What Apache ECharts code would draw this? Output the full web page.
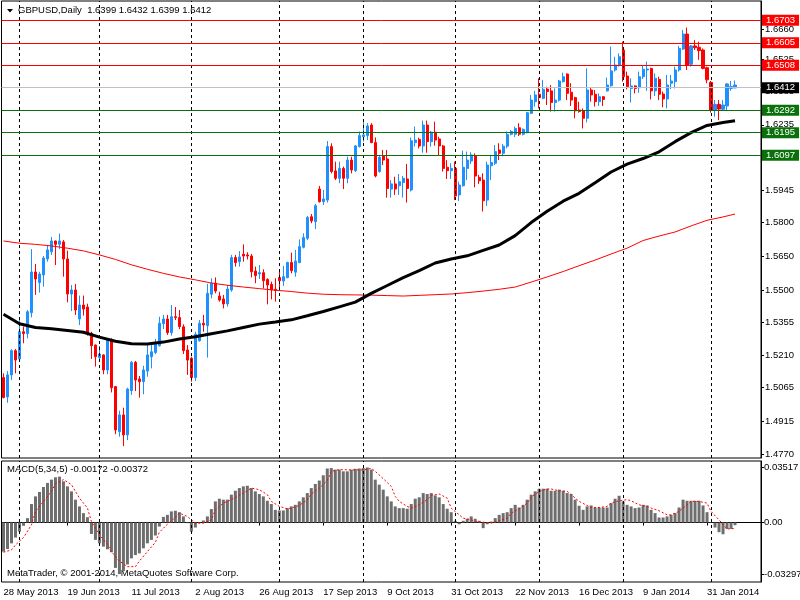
<!DOCTYPE html>
<html>
<head>
<meta charset="utf-8">
<title>GBPUSD, Daily</title>
<script src="https://cdn.jsdelivr.net/npm/echarts@6/dist/echarts.min.js"></script>
<style>
  html, body { margin: 0; padding: 0; background: #fff; }
  #chart { width: 800px; height: 600px; }
</style>
</head>
<body>
<div id="chart"></div>
<script>
// ---- data ----
const symbolName = 'GBPUSD,Daily';
const firstDay = '2013-05-28';
const holidays = ['2013-12-25', '2014-01-01'];

const opens = [
  1.5110,1.5024,1.5122,1.5230,1.5193,1.5314,1.5306,1.5399,1.5580,1.5533,
  1.5567,1.5638,1.5670,1.5718,1.5703,1.5714,1.5638,1.5482,1.5500,1.5371,
  1.5433,1.5424,1.5307,1.5255,1.5199,1.5211,1.5144,1.5277,1.5070,1.4869,
  1.4944,1.4855,1.5052,1.5178,1.5104,1.5092,1.5139,1.5203,1.5222,1.5252,
  1.5350,1.5371,1.5310,1.5381,1.5377,1.5336,1.5233,1.5196,1.5110,1.5274,
  1.5352,1.5341,1.5481,1.5530,1.5473,1.5460,1.5438,1.5500,1.5644,1.5626,
  1.5659,1.5656,1.5651,1.5584,1.5571,1.5577,1.5547,1.5525,1.5503,1.5555,
  1.5540,1.5555,1.5622,1.5579,1.5622,1.5690,1.5730,1.5826,1.5804,1.5949,
  1.5893,1.5900,1.6138,1.6030,1.5997,1.6041,1.5997,1.6078,1.6031,1.6138,
  1.6182,1.6187,1.6234,1.6156,1.6027,1.6096,1.6083,1.5949,1.5972,1.5964,
  1.5978,1.5994,1.5945,1.6156,1.6170,1.6141,1.6234,1.6160,1.6202,1.6172,
  1.6141,1.6046,1.6031,1.6041,1.5923,1.5964,1.6041,1.6074,1.6096,1.6001,
  1.5989,1.5900,1.6053,1.6064,1.6123,1.6108,1.6140,1.6193,1.6193,1.6222,
  1.6193,1.6200,1.6286,1.6338,1.6371,1.6353,1.6394,1.6386,1.6334,1.6345,
  1.6427,1.6461,1.6380,1.6356,1.6301,1.6298,1.6264,1.6390,1.6371,1.6338,
  1.6360,1.6386,1.6409,1.6479,1.6501,1.6568,1.6452,1.6397,1.6408,1.6400,
  1.6449,1.6479,1.6486,1.6386,1.6437,1.6372,1.6350,1.6420,1.6427,1.6479,
  1.6572,1.6639,1.6504,1.6586,1.6580,1.6568,1.6489,1.6424,1.6301,1.6326,
  1.6304,1.6319,1.6397,1.6399
];
const highs = [
  1.5129,1.5139,1.5236,1.5237,1.5366,1.5337,1.5411,1.5682,1.5616,1.5581,
  1.5651,1.5700,1.5736,1.5720,1.5751,1.5722,1.5675,1.5522,1.5527,1.5475,
  1.5475,1.5439,1.5314,1.5257,1.5251,1.5213,1.5285,1.5285,1.5073,1.4963,
  1.4976,1.5065,1.5184,1.5184,1.5117,1.5163,1.5255,1.5263,1.5282,1.5381,
  1.5389,1.5389,1.5433,1.5424,1.5411,1.5347,1.5255,1.5203,1.5314,1.5366,
  1.5389,1.5527,1.5552,1.5556,1.5492,1.5478,1.5522,1.5656,1.5656,1.5673,
  1.5703,1.5668,1.5660,1.5604,1.5611,1.5592,1.5552,1.5537,1.5552,1.5592,
  1.5607,1.5626,1.5666,1.5678,1.5725,1.5752,1.5829,1.5838,1.5883,1.5963,
  1.5945,1.6163,1.6153,1.6071,1.6071,1.6049,1.6093,1.6093,1.6145,1.6205,
  1.6259,1.6242,1.6242,1.6179,1.6101,1.6123,1.6123,1.5989,1.6004,1.6016,
  1.6007,1.6061,1.6178,1.6227,1.6178,1.6254,1.6254,1.6208,1.6249,1.6182,
  1.6145,1.6078,1.6064,1.6071,1.5982,1.6120,1.6116,1.6113,1.6108,1.6012,
  1.6019,1.6071,1.6101,1.6145,1.6153,1.6150,1.6205,1.6212,1.6227,1.6242,
  1.6219,1.6293,1.6368,1.6386,1.6442,1.6435,1.6405,1.6412,1.6397,1.6435,
  1.6467,1.6464,1.6420,1.6360,1.6338,1.6308,1.6486,1.6400,1.6390,1.6375,
  1.6363,1.6445,1.6583,1.6538,1.6553,1.6605,1.6472,1.6442,1.6411,1.6472,
  1.6501,1.6516,1.6489,1.6464,1.6449,1.6383,1.6457,1.6457,1.6494,1.6586,
  1.6657,1.6668,1.6590,1.6612,1.6605,1.6575,1.6494,1.6430,1.6345,1.6345,
  1.6345,1.6420,1.6430,1.6432
];
const lows = [
  1.5018,1.4998,1.5099,1.5129,1.5184,1.5263,1.5285,1.5378,1.5478,1.5488,
  1.5515,1.5626,1.5656,1.5611,1.5682,1.5559,1.5445,1.5406,1.5389,1.5344,
  1.5386,1.5297,1.5193,1.5159,1.5188,1.5125,1.5125,1.5044,1.4858,1.4847,
  1.4805,1.4832,1.5033,1.5050,1.5021,1.5036,1.5114,1.5151,1.5214,1.5248,
  1.5326,1.5300,1.5297,1.5366,1.5326,1.5215,1.5122,1.5092,1.5095,1.5270,
  1.5314,1.5199,1.5463,1.5485,1.5448,1.5418,1.5426,1.5492,1.5604,1.5604,
  1.5626,1.5636,1.5556,1.5530,1.5549,1.5507,1.5436,1.5458,1.5448,1.5500,
  1.5518,1.5552,1.5574,1.5559,1.5619,1.5685,1.5722,1.5797,1.5771,1.5889,
  1.5878,1.5889,1.6019,1.5989,1.5975,1.5949,1.5975,1.6019,1.6025,1.6134,
  1.6160,1.6167,1.6153,1.6001,1.6022,1.6056,1.5911,1.5911,1.5923,1.5923,
  1.5911,1.5889,1.5938,1.6138,1.6130,1.6111,1.6111,1.6138,1.6142,1.6096,
  1.6027,1.5994,1.5994,1.5900,1.5896,1.5960,1.5989,1.6061,1.5957,1.5972,
  1.5849,1.5874,1.5989,1.6056,1.6078,1.6095,1.6130,1.6188,1.6180,1.6185,
  1.6188,1.6197,1.6283,1.6316,1.6308,1.6349,1.6323,1.6294,1.6294,1.6338,
  1.6423,1.6345,1.6319,1.6264,1.6289,1.6219,1.6246,1.6338,1.6316,1.6319,
  1.6319,1.6383,1.6405,1.6472,1.6494,1.6427,1.6393,1.6334,1.6375,1.6378,
  1.6439,1.6386,1.6348,1.6363,1.6345,1.6313,1.6308,1.6394,1.6397,1.6472,
  1.6568,1.6479,1.6494,1.6568,1.6524,1.6482,1.6420,1.6289,1.6271,1.6256,
  1.6298,1.6298,1.6386,1.6399
];
const closes = [
  1.5021,1.5122,1.5230,1.5188,1.5314,1.5306,1.5403,1.5580,1.5549,1.5571,
  1.5642,1.5678,1.5718,1.5703,1.5718,1.5638,1.5482,1.5500,1.5411,1.5433,
  1.5415,1.5307,1.5252,1.5203,1.5215,1.5144,1.5277,1.5065,1.4877,1.4944,
  1.4855,1.5059,1.5178,1.5099,1.5092,1.5144,1.5211,1.5225,1.5258,1.5352,
  1.5371,1.5310,1.5381,1.5377,1.5337,1.5230,1.5188,1.5110,1.5303,1.5352,
  1.5344,1.5485,1.5530,1.5495,1.5455,1.5438,1.5504,1.5644,1.5622,1.5647,
  1.5651,1.5651,1.5581,1.5564,1.5577,1.5541,1.5522,1.5500,1.5498,1.5541,
  1.5559,1.5622,1.5586,1.5629,1.5693,1.5733,1.5823,1.5807,1.5875,1.5893,
  1.5905,1.6138,1.6027,1.5997,1.6041,1.5997,1.6078,1.6034,1.6141,1.6187,
  1.6190,1.6230,1.6156,1.6007,1.6090,1.6078,1.5952,1.5972,1.5949,1.5982,
  1.5997,1.5952,1.6164,1.6167,1.6141,1.6234,1.6160,1.6202,1.6167,1.6141,
  1.6041,1.6031,1.6041,1.5918,1.5967,1.6046,1.6078,1.6101,1.6007,1.5986,
  1.5897,1.6056,1.6067,1.6116,1.6108,1.6140,1.6192,1.6205,1.6219,1.6193,
  1.6215,1.6289,1.6345,1.6368,1.6356,1.6393,1.6383,1.6334,1.6345,1.6430,
  1.6449,1.6375,1.6345,1.6297,1.6294,1.6264,1.6390,1.6368,1.6338,1.6360,
  1.6348,1.6412,1.6475,1.6501,1.6538,1.6449,1.6405,1.6408,1.6397,1.6449,
  1.6482,1.6483,1.6386,1.6442,1.6371,1.6350,1.6412,1.6430,1.6479,1.6575,
  1.6639,1.6501,1.6586,1.6578,1.6565,1.6486,1.6435,1.6301,1.6326,1.6305,
  1.6323,1.6417,1.6405,1.6412
];

// moving averages: [bar index, value]
const maBlack = [
  [0,1.5392],[4,1.5350],[8,1.5333],[12,1.5327],[16,1.5320],[20,1.5312],[24,1.5290],
  [28,1.5272],[32,1.5261],[36,1.5260],[40,1.5268],[44,1.5282],[48,1.5292],[52,1.5305],
  [56,1.5318],[60,1.5333],[64,1.5348],[68,1.5357],[72,1.5367],[76,1.5385],[80,1.5404],
  [84,1.5425],[88,1.5446],[92,1.5485],[96,1.5520],[100,1.5555],[104,1.5586],[108,1.5620],
  [112,1.5638],[116,1.5652],[120,1.5676],[124,1.5700],[128,1.5742],[132,1.5800],
  [136,1.5850],[140,1.5895],[144,1.5930],[148,1.5977],[152,1.6025],[156,1.6060],
  [160,1.6085],[164,1.6115],[168,1.6160],[172,1.6200],[176,1.6232],[180,1.6245],[183,1.6253]
];
const maRed = [
  [0,1.5718],[4,1.5708],[8,1.5703],[12,1.5696],[16,1.5686],[20,1.5674],[24,1.5656],
  [28,1.5636],[32,1.5612],[36,1.5592],[40,1.5574],[44,1.5558],[48,1.5545],[52,1.5531],
  [56,1.5521],[60,1.5513],[64,1.5506],[68,1.5499],[72,1.5493],[76,1.5486],[80,1.5481],
  [84,1.5479],[88,1.5478],[92,1.5477],[96,1.5475],[100,1.5473],[104,1.5476],[108,1.5479],
  [112,1.5482],[116,1.5488],[120,1.5495],[124,1.5503],[128,1.5513],[132,1.5535],
  [136,1.5558],[140,1.5582],[144,1.5608],[148,1.5633],[152,1.5660],[156,1.5686],
  [160,1.5720],[164,1.5740],[168,1.5758],[172,1.5785],[176,1.5810],[180,1.5825],[183,1.5838]
];

const macdHist = [
  -0.0186,-0.0169,-0.0133,-0.0096,-0.0058,-0.0021,0.0028,0.0118,0.0167,0.0195,
  0.0227,0.0253,0.0274,0.0289,0.0293,0.0263,0.0231,0.0199,0.0146,0.0103,
  0.0060,0.0034,-0.0073,-0.0111,-0.0133,-0.0154,-0.0171,-0.0190,-0.0290,-0.03297,
  -0.0310,-0.0268,-0.0229,-0.0208,-0.0197,-0.0165,-0.0133,-0.0111,-0.0083,-0.0026,
  0.0036,0.0049,0.0071,0.0075,0.0066,0.0039,-0.0004,-0.0058,-0.0032,-0.0004,
  0.0013,0.0039,0.0086,0.0135,0.0152,0.0146,0.0146,0.0178,0.0203,0.0220,
  0.0231,0.0235,0.0220,0.0199,0.0182,0.0167,0.0139,0.0118,0.0081,0.0077,
  0.0077,0.0092,0.0103,0.0113,0.0135,0.0161,0.0188,0.0220,0.0246,0.0268,
  0.0302,0.0345,0.0348,0.0338,0.0338,0.0327,0.0327,0.0338,0.0343,0.0345,
  0.0348,0.03517,0.0338,0.0274,0.0242,0.0210,0.0167,0.0135,0.0103,0.0092,
  0.0092,0.0088,0.0118,0.0152,0.0161,0.0188,0.0182,0.0188,0.0173,0.0161,
  0.0118,0.0088,0.0066,0.0011,-0.0011,0.0011,0.0024,0.0039,0.0024,0.0011,
  -0.0036,-0.0011,0.0006,0.0028,0.0049,0.0060,0.0066,0.0092,0.0113,0.0096,
  0.0113,0.0146,0.0178,0.0199,0.0216,0.0216,0.0216,0.0203,0.0203,0.0210,
  0.0203,0.0188,0.0182,0.0146,0.0107,0.0081,0.0103,0.0109,0.0096,0.0096,
  0.0096,0.0096,0.0124,0.0152,0.0171,0.0135,0.0113,0.0103,0.0092,0.0096,
  0.0113,0.0109,0.0081,0.0060,0.0032,0.0032,0.0039,0.0049,0.0060,0.0096,
  0.0146,0.0139,0.0139,0.0139,0.0139,0.0109,0.0066,0.0003,-0.0032,-0.0062,
  -0.0075,-0.0041,-0.0041,-0.00172
];
// signal line: [bar index, value]
const macdSignal = [
  [0,-0.0190],[2,-0.0175],[3,-0.0143],[5,-0.0096],[7,-0.0015],[8,0.0071],[10,0.0135],
  [12,0.0199],[13,0.0246],[15,0.0274],[17,0.0242],[19,0.0156],[21,0.0092],[22,0.0006],
  [24,-0.0079],[26,-0.0139],[27,-0.0186],[29,-0.0246],[31,-0.0282],[33,-0.0282],
  [34,-0.0246],[36,-0.0186],[38,-0.0126],[39,-0.0062],[41,-0.0011],[43,0.0032],
  [44,0.0060],[46,0.0039],[47,0.0017],[48,-0.0004],[50,-0.0004],[52,0.0017],[53,0.0081],
  [55,0.0124],[57,0.0146],[59,0.0173],[61,0.0203],[62,0.0220],[64,0.0210],[66,0.0178],
  [67,0.0135],[69,0.0103],[71,0.0088],[72,0.0092],[74,0.0109],[76,0.0146],[77,0.0182],
  [79,0.0220],[81,0.0268],[82,0.0327],[84,0.0338],[87,0.0336],[90,0.0336],[92,0.0345],
  [93,0.0327],[95,0.0280],[97,0.0231],[98,0.0167],[99,0.0135],[101,0.0103],[102,0.0092],
  [104,0.0113],[106,0.0146],[107,0.0173],[109,0.0182],[111,0.0156],[112,0.0092],
  [114,0.0049],[115,0.0028],[117,0.0017],[118,0.0006],[121,0.0000],[122,-0.0004],
  [124,0.0011],[126,0.0028],[127,0.0060],[129,0.0088],[131,0.0124],[132,0.0161],
  [134,0.0199],[136,0.0214],[137,0.0214],[139,0.0203],[141,0.0199],[142,0.0178],
  [144,0.0135],[146,0.0109],[147,0.0096],[149,0.0096],[151,0.0103],[152,0.0124],
  [154,0.0139],[156,0.0146],[157,0.0139],[159,0.0113],[161,0.0103],[162,0.0092],
  [164,0.0075],[166,0.0049],[167,0.0049],[169,0.0071],[171,0.0113],[172,0.0135],
  [174,0.0135],[176,0.0124],[177,0.0071],[179,0.0017],[181,-0.0041],[182,-0.0040],
  [183,-0.00372]
];

const resistance = [1.6703, 1.6605, 1.6508];
const support = [1.6292, 1.6195, 1.6097];
const priceTicks = [1.6660, 1.6525, 1.6383, 1.6235, 1.6090, 1.5945, 1.5800, 1.5650,
                    1.5500, 1.5355, 1.5210, 1.5065, 1.4915, 1.4770];
const macdTicks = [0.03517, 0, -0.03297];

// ---- build ----
const MONTHS = ['Jan','Feb','Mar','Apr','May','Jun','Jul','Aug','Sep','Oct','Nov','Dec'];
const barCount = opens.length;
const dates = [];
let cur = new Date(firstDay + 'T00:00:00Z');
while (dates.length < barCount) {
    const iso = cur.toISOString().slice(0, 10);
    const wd = cur.getUTCDay();
    if (wd !== 0 && wd !== 6 && holidays.indexOf(iso) < 0) dates.push(new Date(cur));
    cur.setUTCDate(cur.getUTCDate() + 1);
}
const fmtDate = d => d.getUTCDate() + ' ' + MONTHS[d.getUTCMonth()] + ' ' + d.getUTCFullYear();
const categories = dates.map(fmtDate);
// empty room on the right, like the terminal's chart shift
for (let k = 0; k < 6; k++) categories.push('pad' + k);

// first bar of every month gets a dashed separator
const monthStarts = [];
for (let i = 1; i < dates.length; i++) {
    if (dates[i].getUTCMonth() !== dates[i - 1].getUTCMonth()) monthStarts.push(categories[i]);
}

const candles = opens.map((o, i) => [o, closes[i], lows[i], highs[i]]);
const last = barCount - 1;
const lastBar = [opens[last], highs[last], lows[last], closes[last]];

const FONT = 'Liberation Sans';
const FS = 9.5;
const RED = '#ff0000';
const GREEN = '#0a700a';
const BLUE = '#1e90ff';

const vLines = monthStarts.map(c => ({ xAxis: c }));
const levelLine = (v, color, bg) => ({
    yAxis: v,
    lineStyle: { color: color, type: 'solid', width: 1 },
    label: {
        show: true, position: 'end', distance: 1,
        formatter: v.toFixed(4), color: '#fff', backgroundColor: bg,
        padding: [1, 4, 0, 4], lineHeight: 10, fontSize: FS, fontFamily: FONT
    }
});

const chart = echarts.init(document.getElementById('chart'));
chart.setOption({
    animation: false,
    backgroundColor: '#fff',
    textStyle: { fontFamily: FONT },
    graphic: [
        { type: 'polygon', shape: { points: [[7, 9], [13, 9], [10, 12.5]] }, style: { fill: '#000' } },
        { type: 'text', left: 18, top: 5,
          style: { text: symbolName + '  ' + lastBar.map(v => v.toFixed(4)).join(' '),
                   fill: '#000', font: FS + 'px "' + FONT + '"' } },
        { type: 'text', left: 7, top: 464,
          style: { text: 'MACD(5,34,5) ' + macdHist[last].toFixed(5) + ' ' +
                         macdSignal[macdSignal.length - 1][1].toFixed(5),
                   fill: '#000', font: FS + 'px "' + FONT + '"' } },
        { type: 'text', left: 7, top: 568,
          style: { text: 'MetaTrader, \u00a9 2001-2014, MetaQuotes Software Corp.',
                   fill: '#000', font: FS + 'px "' + FONT + '"' } }
    ],
    grid: [
        { left: 1.5, right: 39, top: 1, bottom: 142, show: true, borderColor: '#000', borderWidth: 1,
          outerBoundsMode: 'none', containLabel: false },
        { left: 1.5, right: 39, top: 461, bottom: 18, show: true, borderColor: '#000', borderWidth: 1,
          outerBoundsMode: 'none', containLabel: false }
    ],
    xAxis: [
        { type: 'category', gridIndex: 0, data: categories, boundaryGap: true,
          axisLine: { show: false }, axisTick: { show: false }, axisLabel: { show: false },
          splitLine: { show: false } },
        { type: 'category', gridIndex: 1, data: categories, boundaryGap: true,
          axisLine: { show: true, lineStyle: { color: '#000' } },
          axisTick: { show: true, interval: 15, alignWithLabel: true, length: 3, lineStyle: { color: '#000' } },
          axisLabel: { interval: 15, align: 'left', margin: 5, fontSize: FS, color: '#000', fontFamily: FONT },
          splitLine: { show: false } }
    ],
    yAxis: [
        { type: 'value', gridIndex: 0, position: 'right', min: 1.47522, max: 1.67860,
          splitLine: { show: false },
          axisLine: { show: true, lineStyle: { color: '#000' } },
          axisTick: { show: true, length: 3, customValues: priceTicks, lineStyle: { color: '#000' } },
          axisLabel: { customValues: priceTicks, formatter: v => v.toFixed(4),
                       fontSize: FS, color: '#000', margin: 4, fontFamily: FONT } },
        { type: 'value', gridIndex: 1, position: 'right', min: -0.0380, max: 0.0393,
          splitLine: { show: false },
          axisLine: { show: true, lineStyle: { color: '#000' } },
          axisTick: { show: true, length: 3, customValues: macdTicks, lineStyle: { color: '#000' } },
          axisLabel: { customValues: macdTicks, formatter: v => (v === 0 ? '0.00' : v.toFixed(5)),
                       fontSize: FS, color: '#000', margin: 3, fontFamily: FONT } }
    ],
    series: [
        {
            name: 'GBPUSD', type: 'candlestick', xAxisIndex: 0, yAxisIndex: 0,
            data: candles, barWidth: 2.6,
            itemStyle: { color: BLUE, color0: RED, borderColor: BLUE, borderColor0: RED, borderWidth: 1 },
            markLine: {
                silent: true, symbol: 'none', animation: false,
                label: { show: false },
                lineStyle: { color: '#000', type: [3, 3], width: 1 },
                data: vLines
                    .concat([levelLine(closes[last], '#c0c0c0', '#000')])
                    .concat(resistance.map(v => levelLine(v, RED, RED)))
                    .concat(support.map(v => levelLine(v, GREEN, GREEN)))
            }
        },
        {
            name: 'MA slow', type: 'line', xAxisIndex: 0, yAxisIndex: 0,
            data: maRed, symbol: 'none', lineStyle: { color: RED, width: 1 }
        },
        {
            name: 'MA fast', type: 'line', xAxisIndex: 0, yAxisIndex: 0,
            data: maBlack, symbol: 'none', lineStyle: { color: '#000', width: 3 }
        },
        {
            name: 'MACD', type: 'bar', xAxisIndex: 1, yAxisIndex: 1,
            data: macdHist, barWidth: 3, itemStyle: { color: '#6e6e6e' },
            markLine: {
                silent: true, symbol: 'none', animation: false,
                label: { show: false },
                lineStyle: { color: '#000', type: [3, 3], width: 1 },
                data: vLines
            }
        },
        {
            name: 'Signal', type: 'line', xAxisIndex: 1, yAxisIndex: 1,
            data: macdSignal, symbol: 'none', lineStyle: { color: RED, width: 1, type: [2, 2] }
        }
    ]
});
</script>
</body>
</html>
